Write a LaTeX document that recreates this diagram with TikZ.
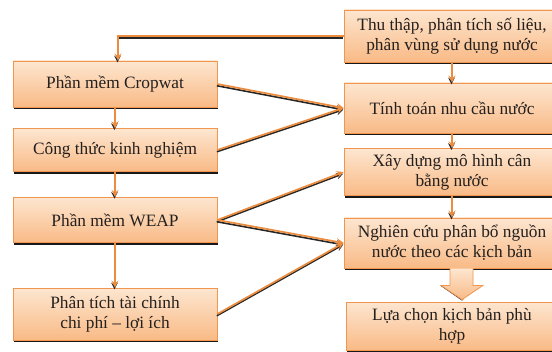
\documentclass[tikz,border=0pt]{standalone}
\usepackage{fontspec}
\setmainfont{Liberation Serif}
\usepackage{tikz}
\usetikzlibrary{arrows, positioning, calc, shadows}

\definecolor{peachtop}{RGB}{253,230,208}
\definecolor{peachbot}{RGB}{249,186,134}
\definecolor{boxline}{RGB}{240,150,80}
\definecolor{linkorange}{RGB}{236,140,62}
\definecolor{inkgray}{RGB}{36,32,30}

\begin{document}
\begin{tikzpicture}[
    x=0.75pt, y=-0.75pt,
    stepbox/.style={rectangle, draw=boxline, line width=0.6pt, top color=peachtop, bottom color=peachbot,
        drop shadow={shadow xshift=0.8pt, shadow yshift=-1.8pt, fill=black!90, opacity=1},
        text=inkgray, font=\fontsize{13}{15}\selectfont, align=center, inner sep=2pt},
    leftbox/.style={stepbox, minimum width=153pt},
    rightbox/.style={stepbox, minimum width=162pt},
    link/.style={->, >=stealth, line width=1.3pt, draw=linkorange,
        preaction={draw=black!85, line width=1.2pt, transform canvas={xshift=-0.4pt, yshift=-1.3pt}}}
]
    \useasboundingbox (0,0) rectangle (552,352);

    % left column
    \node (crop) [leftbox, minimum height=34.5pt] at (115,84) {Phần mềm Cropwat};
    \node (ctkn) [leftbox, minimum height=32pt] at (115,150) {Công thức kinh nghiệm};
    \node (weap) [leftbox, minimum height=34pt] at (115,220) {Phần mềm WEAP};
    \node (taichinh) [leftbox, minimum height=39pt] at (115,314) {Phân tích tài chính\\chi phí -- lợi ích};

    % right column
    \node (thuthap) [rightbox, minimum height=39pt] at (452,36) {Thu thập, phân tích số liệu,\\phân vùng sử dụng nước};
    \node (tinhtoan) [rightbox, minimum height=37.5pt] at (452,108) {Tính toán nhu cầu nước};
    \node (xaydung) [rightbox, minimum height=35pt] at (452,172) {Xây dựng mô hình cân\\bằng nước};
    \node (nghiencuu) [rightbox, minimum height=37.5pt] at (452,243) {Nghiên cứu phân bổ nguồn\\nước theo các kịch bản};
    \node (luachon) [stepbox, minimum width=159pt, minimum height=36pt] at (452,326) {Lựa chọn kịch bản phù\\hợp};

    % connectors
    \draw[link] (thuthap.west) -| ($(crop.north)+(3,0)$);
    \draw[link] (crop) -- (ctkn);
    \draw[link] (ctkn) -- (weap);
    \draw[link] (weap) -- (taichinh);
    \draw[link] (thuthap) -- (tinhtoan);
    \draw[link] (tinhtoan) -- (xaydung);
    \draw[link] (xaydung) -- (nghiencuu);
    \draw[link] (crop.east) -- (tinhtoan.west);
    \draw[link] (ctkn.east) -- (tinhtoan.west);
    \draw[link] (weap.east) -- (xaydung.west);
    \draw[link] (weap.east) -- (nghiencuu.west);
    \draw[link] (taichinh.east) -- (nghiencuu.west);

    % block arrow
    \fill[black!85] ($(nghiencuu.south)+(-12,17)$) -- ($(luachon.north)+(10,-1)$) -- ($(luachon.north)+(12,-3)$) -- ($(nghiencuu.south)+(-9,18)$) -- cycle;
    \draw[boxline, line width=0.6pt, top color=peachtop, bottom color=peachbot]
        ($(nghiencuu.south)+(-2,0)$) -- ($(nghiencuu.south)+(-2,17)$) -- ($(nghiencuu.south)+(-11,17)$)
        -- ($(luachon.north)+(10,-2)$) -- ($(nghiencuu.south)+(31,17)$) -- ($(nghiencuu.south)+(21,17)$)
        -- ($(nghiencuu.south)+(21,0)$);
\end{tikzpicture}
\end{document}
